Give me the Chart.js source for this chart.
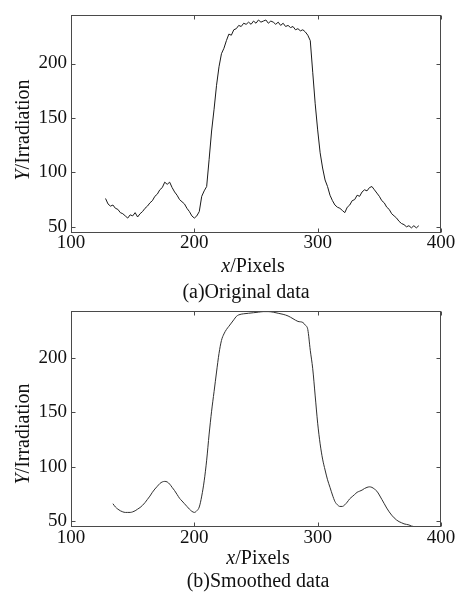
<!DOCTYPE html>
<html>
<head>
<meta charset="utf-8">
<script src="https://cdn.jsdelivr.net/npm/chart.js@4.4.1/dist/chart.umd.min.js"></script>
<style>
  html, body { margin: 0; padding: 0; background: #fff; }
  #wrap { position: relative; width: 469px; height: 592px; overflow: hidden; background: #fff; }
  canvas { position: absolute; left: 0; }
  .lbl { position: absolute; font-family: "Liberation Serif", "Times New Roman", serif; font-size: 20px; color: #111; white-space: nowrap; line-height: 1; transform: translate(-50%, -50%); }
  .vlbl { transform: translate(-50%, -50%) rotate(-90deg); }
</style>
</head>
<body>
<div id="wrap">
  <canvas id="c1" width="469" height="258" style="top:0px;width:469px;height:258px"></canvas>
  <canvas id="c2" width="469" height="258" style="top:296px;width:469px;height:258px"></canvas>
  <div class="lbl vlbl" style="left:22px;top:130px"><i>Y</i>/Irradiation</div>
  <div class="lbl" style="left:253px;top:265px"><i>x</i>/Pixels</div>
  <div class="lbl" style="left:246px;top:291px">(a)Original data</div>
  <div class="lbl vlbl" style="left:22px;top:434px"><i>Y</i>/Irradiation</div>
  <div class="lbl" style="left:258px;top:557px"><i>x</i>/Pixels</div>
  <div class="lbl" style="left:258px;top:580px">(b)Smoothed data</div>
</div>
<script>
// ---- data ----
const xTicks = [100, 200, 300, 400];
const yTicks = [50, 100, 150, 200];

const pixelsOrig = [128,130,132,134,136,138,140,142,144,146,148,150,152,154,156,158,160,162,164,166,168,170,172,174,176,178,180,182,184,186,188,190,192,194,196,198,200,202,204,206,208,210,212,214,216,218,220,222,224,226,228,230,232,234,236,238,240,242,244,246,248,250,252,254,256,258,260,262,264,266,268,270,272,274,276,278,280,282,284,286,288,290,292,294,296,298,300,302,304,306,308,310,312,314,316,318,320,322,324,326,328,330,332,334,336,338,340,342,344,346,348,350,352,354,356,358,360,362,364,366,368,370,372,374,376,378,380,382];
const irradOrig = [76,71,69,70,67,66,63,62,60,58,61,60,63,59,62,64,67,69,72,74,78,80,84,86,91,89,91,86,82,79,75,73,71,67,64,60,58,60,64,78,83,87,112,138,158,180,197,209,214,221,227,226,231,232,235,234,237,236,238,236,239,237,240,238,239,240,237,239,238,236,238,235,237,234,235,233,234,231,232,230,231,229,226,221,192,163,139,118,104,93,87,79,74,70,68,67,65,63,68,70,74,75,79,78,82,84,83,86,87,84,81,78,74,72,68,66,62,60,58,55,53,52,50,51,49,51,49,51];

const pixelsSmooth = [134,136,138,140,142,144,146,148,150,152,154,156,158,160,162,164,166,168,170,172,174,176,178,180,182,184,186,188,190,192,194,196,198,200,202,204,206,208,210,212,214,216,218,220,222,224,226,228,230,232,234,236,240,244,248,252,256,260,264,268,272,276,280,284,288,290,292,294,296,298,300,302,304,306,308,310,312,314,316,318,320,322,324,326,328,330,332,334,336,338,340,342,344,346,348,350,352,354,356,358,360,362,364,366,368,370,372,374,376,378];
const irradSmooth = [66,63,61,59.5,58.5,58,58,58,58.5,59.5,61,62.5,64.5,67,70,73,76.5,79.5,82,84.5,86,86.5,86,84,81,78,74.5,71,68.5,66,63.5,61,59,58,59.5,63,73,87,106,130,151,169,187,204,216,222,226,229,232,235,238,239.5,240.5,241,241.5,242,242.5,242.5,242,241,240,238.5,236,233.5,232.5,230,226,207,190,165,140,121,107,97,88,81,74,68,65,63.5,63.5,65,67.5,70.5,72.5,74.5,76.5,77.5,78.5,80,81,81.5,81,79.5,77.5,74,70,66,62,58.5,55.5,53,51,49.5,48.5,47.5,47,46.5,45.5,45];

// ---- chart helpers ----
const FONT = "'Liberation Serif', 'Times New Roman', serif";

const framePlugin = {
  id: 'frame',
  afterDatasetsDraw(chart) {
    const ctx = chart.ctx, a = chart.chartArea;
    const xs = chart.scales.x, ys = chart.scales.y;
    const L = Math.round(a.left) + 0.5, R = Math.round(a.right) - 0.5;
    const T = Math.round(a.top) + 0.5, B = Math.round(a.bottom) - 0.5;
    const tl = 4;
    ctx.save();
    ctx.strokeStyle = '#4a4a4a';
    ctx.lineWidth = 1;
    ctx.strokeRect(L, T, R - L, B - T);
    ctx.beginPath();
    xs.ticks.forEach(t => {
      const px = Math.round(xs.getPixelForValue(t.value)) + 0.5;
      ctx.moveTo(px, B); ctx.lineTo(px, B - tl);
      ctx.moveTo(px, T); ctx.lineTo(px, T + tl);
    });
    ys.ticks.forEach(t => {
      const py = Math.round(ys.getPixelForValue(t.value)) + 0.5;
      ctx.moveTo(L, py); ctx.lineTo(L + tl, py);
      ctx.moveTo(R, py); ctx.lineTo(R - tl, py);
    });
    ctx.stroke();
    ctx.restore();
  }
};

function makeChart(id, xs, ys, yMin, yMax, topPad, xHeight, xPad, smooth) {
  const pts = xs.map((v, i) => ({ x: v, y: ys[i] }));
  return new Chart(document.getElementById(id), {
    type: 'line',
    data: {
      datasets: [{
        data: pts,
        borderColor: smooth ? '#303030' : '#1a1a1a',
        borderWidth: 1,
        pointRadius: 0,
        tension: 0,
        cubicInterpolationMode: smooth ? 'monotone' : 'default',
        fill: false
      }]
    },
    options: {
      responsive: false,
      animation: false,
      devicePixelRatio: 1,
      events: [],
      layout: { padding: { top: topPad, right: 28, left: 0, bottom: 0 } },
      plugins: { legend: { display: false }, tooltip: { enabled: false } },
      scales: {
        x: {
          type: 'linear',
          min: 100, max: 400,
          grid: { display: false, drawTicks: false },
          border: { display: false },
          afterBuildTicks: s => { s.ticks = xTicks.map(v => ({ value: v })); },
          afterFit: s => { s.height = xHeight; },
          ticks: { color: '#111', padding: xPad, maxRotation: 0, font: { family: FONT, size: 19 } }
        },
        y: {
          type: 'linear',
          min: yMin, max: yMax,
          grid: { display: false, drawTicks: false },
          border: { display: false },
          afterBuildTicks: s => { s.ticks = yTicks.map(v => ({ value: v })); },
          afterFit: s => { s.width = 71; },
          ticks: { color: '#111', padding: 4, font: { family: FONT, size: 19 } }
        }
      }
    },
    plugins: [framePlugin]
  });
}

makeChart('c1', pixelsOrig, irradOrig, 44.3, 244.2, 7, 25, -1, false);
makeChart('c2', pixelsSmooth, irradSmooth, 44.6, 242.7, 8, 27, 0, true);
</script>
</body>
</html>
